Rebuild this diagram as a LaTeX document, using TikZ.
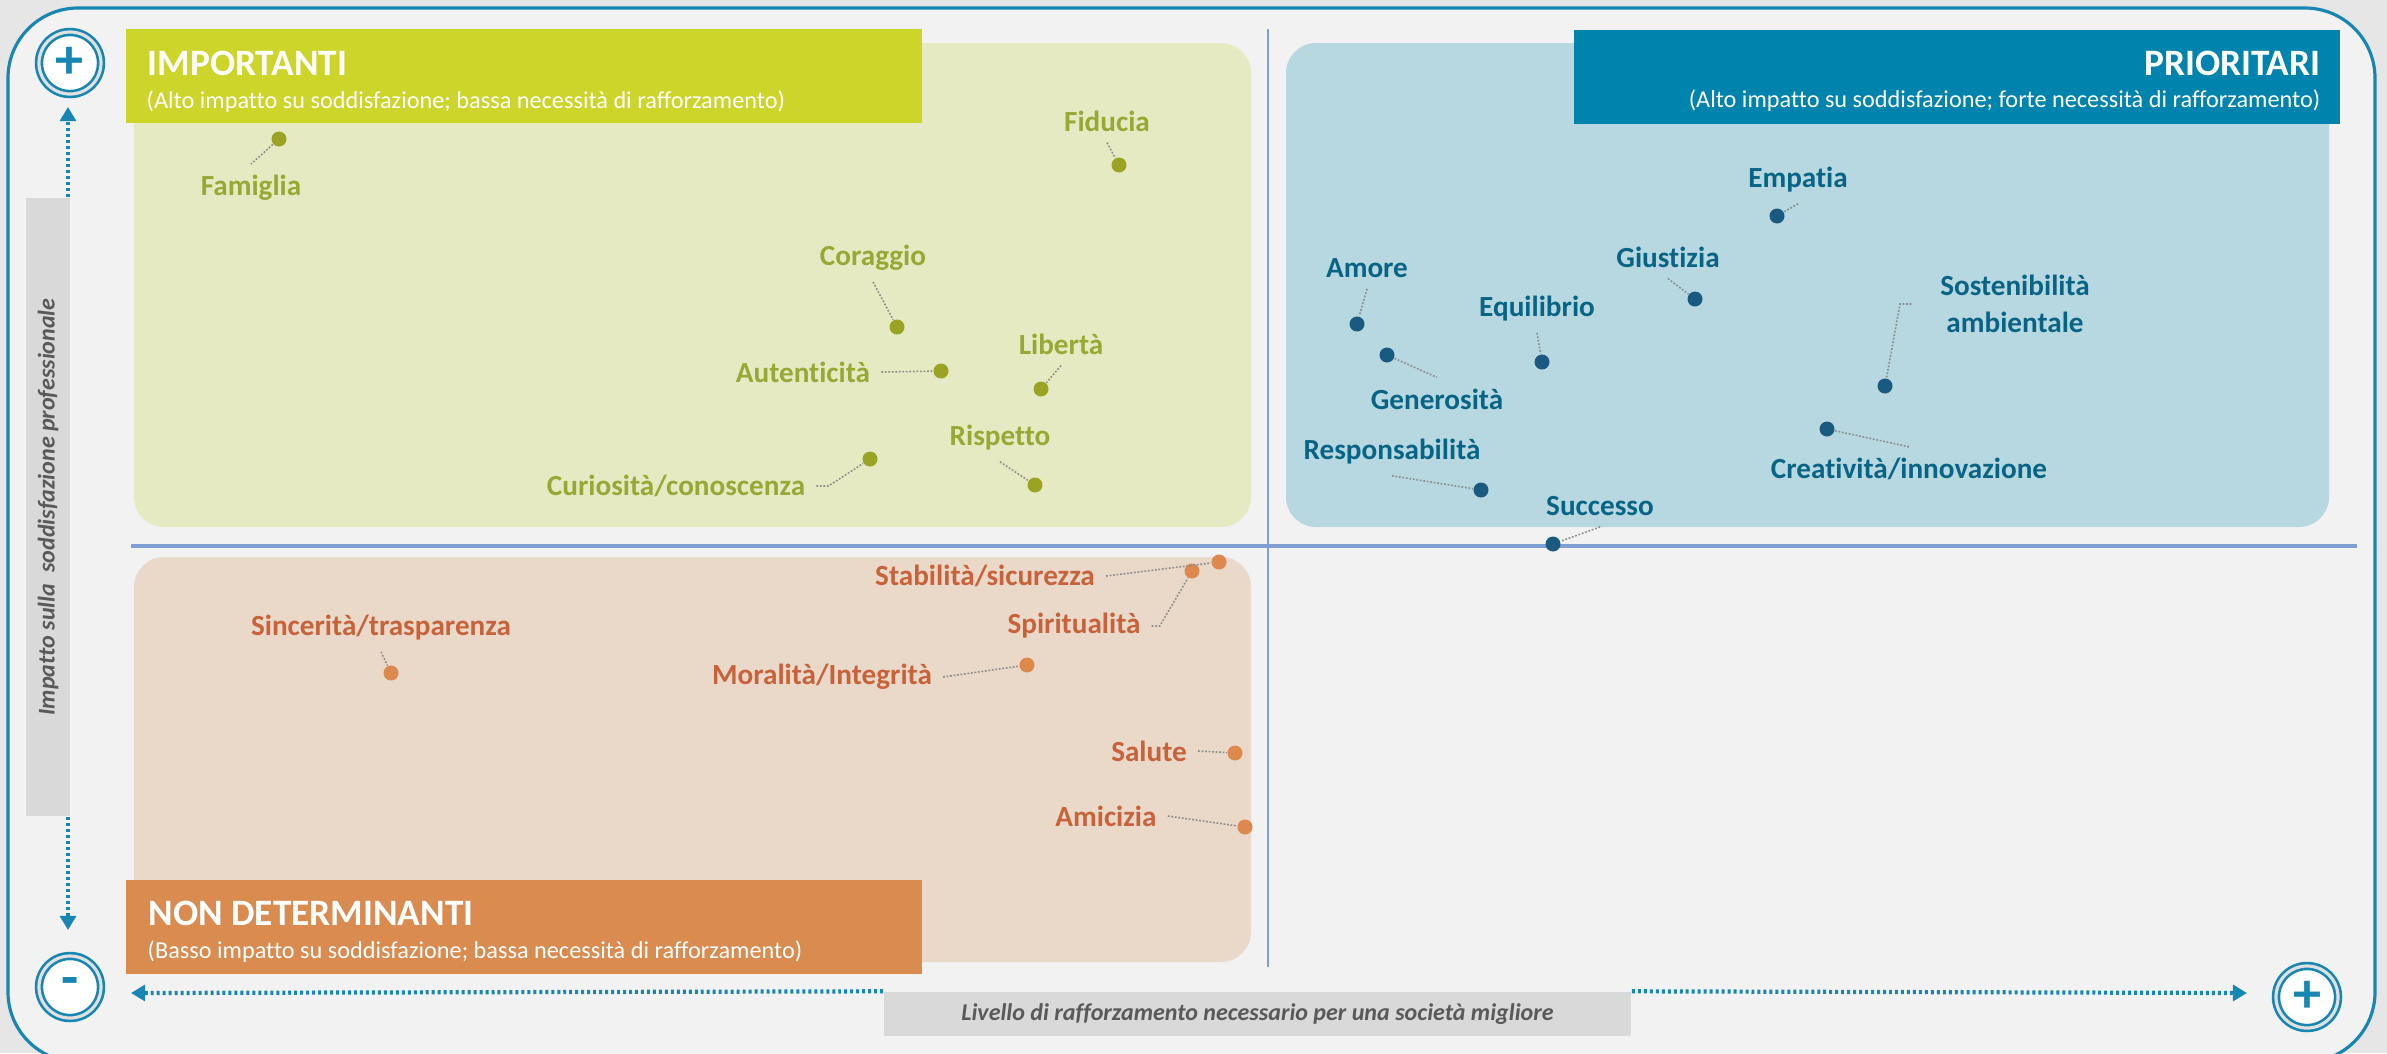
\documentclass[tikz,border=0pt]{standalone}
\usepackage{fontspec}
\setmainfont{Carlito}[Ligatures=NoCommon]
\usetikzlibrary{arrows.meta}

\definecolor{frameblue}{RGB}{23,134,178}
\definecolor{pagegray}{RGB}{242,242,242}
\definecolor{outgray}{RGB}{230,230,230}
\definecolor{impbar}{RGB}{205,212,42}
\definecolor{impbg}{RGB}{230,234,194}
\definecolor{impdot}{RGB}{154,163,36}
\definecolor{imptext}{RGB}{152,168,52}
\definecolor{pribar}{RGB}{0,131,173}
\definecolor{pribg}{RGB}{183,216,225}
\definecolor{pridot}{RGB}{26,90,128}
\definecolor{pritext}{RGB}{8,100,133}
\definecolor{nonbar}{RGB}{217,139,80}
\definecolor{nonbg}{RGB}{234,216,200}
\definecolor{nondot}{RGB}{221,136,76}
\definecolor{nontext}{RGB}{200,98,58}
\definecolor{axisline}{RGB}{127,159,212}
\definecolor{axisbar}{RGB}{217,217,217}
\definecolor{axistext}{RGB}{89,89,89}

\tikzset{
    value/.style={font=\fontsize{8.3}{10.5}\selectfont\bfseries, inner sep=3pt, align=center},
    gval/.style={value, text=imptext},
    bval/.style={value, text=pritext},
    oval/.style={value, text=nontext},
    gdot/.style={circle, fill=impdot, inner sep=0pt, minimum size=0.15cm},
    bdot/.style={circle, fill=pridot, inner sep=0pt, minimum size=0.15cm},
    odot/.style={circle, fill=nondot, inner sep=0pt, minimum size=0.15cm},
    leader/.style={black!45, line width=0.45pt, dash pattern=on 0.5pt off 0.5pt},
    title/.style={text=white, font=\fontsize{10.6}{12}\selectfont\bfseries, inner sep=0pt},
    subtitle/.style={text=white, font=\fontsize{6.9}{8}\selectfont, inner sep=0pt},
    axbar/.style={fill=axisbar, text=axistext, font=\fontsize{6.83}{8}\selectfont\bfseries\itshape, inner sep=0pt},
    axarrow/.style={frameblue, line width=1.2pt, dash pattern=on 0.85pt off 0.85pt, -{Triangle[length=4pt,width=4.5pt]}},
    endmark/.style={circle, minimum size=0.62cm, inner sep=0pt, fill=white, draw=frameblue, line width=0.75pt,
        double=black!12, double distance=0.9pt, text=frameblue, font=\fontsize{16}{16}\selectfont\bfseries}
}

\begin{document}
\begin{tikzpicture}[x=0.01cm, y=-0.01cm]
\useasboundingbox (0,0) rectangle (2387,1053);
\clip (0,0) rectangle (2387,1053);
\fill[outgray] (0,0) rectangle (2387,1053);
\draw[frameblue, line width=0.9pt, fill=pagegray, rounded corners=0.7cm] (8,8) rectangle (2375,1062);

% quadrants
\fill[impbg, rounded corners=0.3cm] (134,43) rectangle (1251,527);
\fill[pribg, rounded corners=0.3cm] (1286,43) rectangle (2329,527);
\fill[nonbg, rounded corners=0.3cm] (134,557) rectangle (1251,962);
\draw[axisline, line width=0.6pt] (1268,29) -- (1268,967);
\draw[axisline, line width=0.9pt] (131,546) -- (2357,546);

% headers
\fill[impbar] (126,29) rectangle (922,123);
\fill[pribar] (1574,30) rectangle (2340,124);
\fill[nonbar] (126,880) rectangle (922,974);
\node[title, anchor=base west] (imp) at (147,75) {IMPORTANTI};
\node[subtitle, anchor=base west] (impsub) at (146,108) {(Alto impatto su soddisfazione; bassa necessità di rafforzamento)};
\node[title, anchor=base east] (pri) at (2321,75) {PRIORITARI};
\node[subtitle, anchor=base east] (prisub) at (2321,107) {(Alto impatto su soddisfazione; forte necessità di rafforzamento)};
\node[title, anchor=base west] (non) at (148,925) {NON DETERMINANTI};
\node[subtitle, anchor=base west] (nonsub) at (147,958) {(Basso impatto su soddisfazione; bassa necessità di rafforzamento)};

% axes
\node[axbar, minimum width=7.47cm, minimum height=0.44cm] (hbar) at (1257.5,1014) {Livello di rafforzamento necessario per una società migliore};
\node[axbar, rotate=90, minimum width=6.18cm, minimum height=0.44cm] (vbar) at (48,507) {Impatto sulla\ \ soddisfazione professionale};
\node[endmark] (plusV) at (70,63) {+};
\node[endmark] (minus) at (70,987) {-};
\node[endmark] (plusH) at (2307,997) {+};
\coordinate (uptip) at (68,107);
\coordinate (downtip) at (68,930);
\coordinate (lefttip) at (131,993);
\coordinate (righttip) at (2247,993);
\draw[axarrow] (uptip |- vbar.south east) -- (uptip);
\draw[axarrow] (downtip |- vbar.south west) -- (downtip);
\draw[axarrow] (hbar.north west) -- (lefttip);
\draw[axarrow] (hbar.north east) -- (righttip);

% importanti
\foreach \n/\x/\y in {fam/279/139, fid/1119/165, cor/897/327, aut/941/371, lib/1041/389, rsp/1035/485, cur/870/459}
  \node[gdot] (\n) at (\x,\y) {};
\node[gval] (fam-t) at (251,188) {Famiglia};
\node[gval] (fid-t) at (1107,121) {Fiducia};
\node[gval] (cor-t) at (873,258) {Coraggio};
\node[gval] (aut-t) at (803,372) {Autenticità};
\node[gval] (lib-t) at (1061,344) {Libertà};
\node[gval] (rsp-t) at (1000,438) {Rispetto};
\node[gval] (cur-t) at (676,486) {Curiosità/conoscenza};

% prioritari
\foreach \n/\x/\y in {amo/1357/324, equ/1542/362, giu/1695/299, emp/1777/216, sos/1885/386, gen/1387/355, res/1481/490, cre/1827/429, suc/1553/544}
  \node[bdot] (\n) at (\x,\y) {};
\node[bval] (amo-t) at (1367,268) {Amore};
\node[bval] (equ-t) at (1537,309) {Equilibrio};
\node[bval] (giu-t) at (1668,257) {Giustizia};
\node[bval] (emp-t) at (1798,180) {Empatia};
\node[bval] (sos-t) at (2015,304) {Sostenibilità\\ambientale};
\node[bval] (gen-t) at (1437,399) {Generosità};
\node[bval] (res-t) at (1392,452) {Responsabilità};
\node[bval] (cre-t) at (1909,469) {Creatività/innovazione};
\node[bval] (suc-t) at (1600,506) {Successo};

% non determinanti
\foreach \n/\x/\y in {sta/1219/562, spi/1192/571, mor/1027/665, sin/391/673, sal/1235/753, ami/1245/827}
  \node[odot] (\n) at (\x,\y) {};
\node[oval] (sta-t) at (985,576) {Stabilità/sicurezza};
\node[oval] (spi-t) at (1074,626) {Spiritualità};
\node[oval] (mor-t) at (822,677) {Moralità/Integrità};
\node[oval] (sin-t) at (381,628) {Sincerità/trasparenza};
\node[oval] (sal-t) at (1149,751) {Salute};
\node[oval] (ami-t) at (1106,816) {Amicizia};

% leaders
\foreach \n/\a in {fid/south, cor/south, aut/east, lib/south, rsp/south, amo/south, equ/south, giu/south, emp/south,
                   res/south, suc/south, sta/east, mor/east, sin/south, sal/east, ami/east}
  \draw[leader] (\n-t.\a) -- (\n);
\foreach \n in {fam, gen, cre}
  \draw[leader] (\n) -- (\n-t.north);
\draw[leader] (cur-t.east) -- ++(12,0) -- (cur);
\draw[leader] (spi-t.east) -- ++(8,0) -- (spi);
\draw[leader, shorten <=5pt] (sos-t.west) -- ++(-29,0) -- (sos);

\end{tikzpicture}
\end{document}
